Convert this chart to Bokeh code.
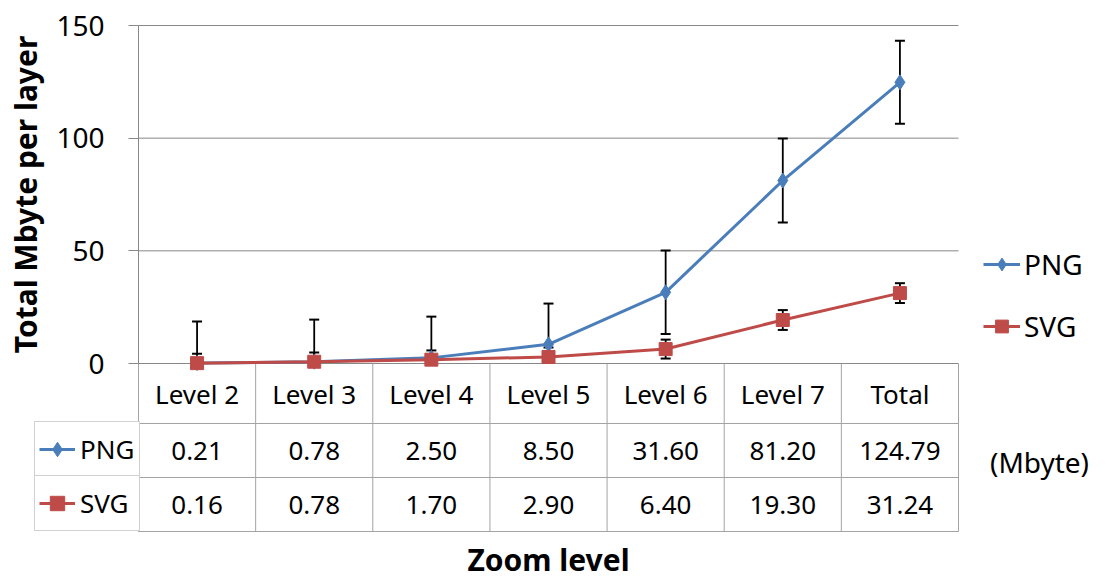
import numpy as np
from bokeh.plotting import figure
from bokeh.models import Range1d, FixedTicker, Legend, LegendItem
from bokeh.embed import file_html
from bokeh.resources import INLINE
from bokeh.core.properties import value

# ---------------- data ----------------
categories = ["Level 2", "Level 3", "Level 4", "Level 5", "Level 6", "Level 7", "Total"]
png_values = [0.21, 0.78, 2.50, 8.50, 31.60, 81.20, 124.79]
svg_values = [0.16, 0.78, 1.70, 2.90, 6.40, 19.30, 31.24]
png_errors = [18.4, 18.7, 18.3, 18.1, 18.5, 18.6, 18.4]
svg_errors = [4.2, 4.1, 4.1, 4.2, 4.2, 4.4, 4.4]
y_ticks = [0, 50, 100, 150]
series_names = ["PNG", "SVG"]
y_title = "Total Mbyte per layer"
x_title = "Zoom level"
unit_note = "(Mbyte)"

# ---------------- layout / style ----------------
PNG_COLOR = "#4a7ebb"
SVG_COLOR = "#be4b48"
GRID = "#888888"
TABLE_LINE = "#a3a3a3"
FONT = "Noto Sans"
W, H = 1106, 579
AXIS_X = 138                 # pixel of the first category boundary
AXIS_Y = 363                 # pixel of y = 0
TOP_Y = 25                   # pixel of y = 150
CELL = 820 / 7.0             # px per category
PXU = (AXIS_Y - TOP_Y) / 150.0     # px per y unit
row_edges_px = [0, 60, 114, 168]   # table rule offsets below the axis
n = len(categories)

def ypx(d):                  # px below the axis -> data units
    return -d / PXU

def xpx(px):                 # page px -> data units
    return (px - AXIS_X) / CELL

xs = np.arange(n) + 0.5
png = np.array(png_values)
svg = np.array(svg_values)
pe = np.array(png_errors)
se = np.array(svg_errors)

p = figure(width=W, height=H, output_backend="svg", toolbar_location=None,
           x_range=Range1d(xpx(0), xpx(W)),
           y_range=Range1d(ypx(H - AXIS_Y), 150 + TOP_Y / PXU),
           x_axis_location=None,
           min_border_left=0, min_border_right=0, min_border_top=0, min_border_bottom=0)
p.outline_line_color = None
p.grid.visible = False

ax = p.yaxis[0]
ax.fixed_location = 0
ax.ticker = FixedTicker(ticks=y_ticks)
ax.bounds = (0, 150)
ax.axis_line_color = GRID
ax.major_tick_line_color = GRID
ax.major_tick_out = 10
ax.major_tick_in = 0
ax.minor_tick_line_color = None
ax.major_label_text_font = FONT
ax.major_label_text_font_size = "28px"
ax.major_label_text_color = "black"
ax.major_label_standoff = 24

# horizontal gridlines across the plot area
p.segment(x0=0, y0=y_ticks, x1=n, y1=y_ticks, line_color=GRID, line_width=1)

# y title
p.text(x=[xpx(25)], y=[75], text=[y_title], angle=np.pi / 2, text_font=value(FONT),
       text_font_size=value("30px"), text_font_style="bold", text_align="center",
       text_baseline="middle", text_color="black")

# ---------------- data table ----------------
bottom = ypx(row_edges_px[-1])
p.segment(x0=0, y0=[ypx(e) for e in row_edges_px[1:]], x1=n, y1=[ypx(e) for e in row_edges_px[1:]],
          line_color=TABLE_LINE, line_width=1)
p.segment(x0=np.arange(0, n + 1), y0=0, x1=np.arange(0, n + 1), y1=bottom,
          line_color=TABLE_LINE, line_width=1)

row_mid = [ypx((row_edges_px[i] + row_edges_px[i + 1]) / 2) for i in range(3)]
txt = dict(text_font=value(FONT), text_font_size=value("26px"), text_align="center",
           text_baseline="middle", text_color="black")
p.text(x=xs, y=[row_mid[0]] * n, text=categories, **txt)
p.text(x=xs, y=[row_mid[1]] * n, text=[f"{v:.2f}" for v in png_values], **txt)
p.text(x=xs, y=[row_mid[2]] * n, text=[f"{v:.2f}" for v in svg_values], **txt)
p.text(x=[xpx(1039)], y=[ypx(461 - AXIS_Y)], text=[unit_note], text_font=value(FONT),
       text_font_size=value("28px"), text_align="center", text_baseline="middle", text_color="black")
p.text(x=[n / 2], y=[ypx(559 - AXIS_Y)], text=[x_title], text_font=value(FONT),
       text_font_size=value("30px"), text_font_style="bold", text_align="center",
       text_baseline="middle", text_color="black")

# ---------------- error bars (clipped at the axis like the original) ----------------
for vals, errs in ((png, pe), (svg, se)):
    lo = np.maximum(vals - errs, 0)
    hi = vals + errs
    p.segment(x0=xs, y0=lo, x1=xs, y1=hi, line_color="black", line_width=1.8)
    p.scatter(xs, hi, marker="dash", size=10, line_color="black", line_width=2)
    vis = vals - errs >= 0
    p.scatter(xs[vis], (vals - errs)[vis], marker="dash", size=10, line_color="black", line_width=2)

# ---------------- series ----------------
png_line = p.line(xs, png, line_color=PNG_COLOR, line_width=3)
svg_line = p.line(xs, svg, line_color=SVG_COLOR, line_width=3)
png_mark = p.scatter(xs, png, marker="diamond", size=15,
                     fill_color=PNG_COLOR, line_color=PNG_COLOR)
svg_mark = p.scatter(xs, svg, marker="square", size=13, fill_color=SVG_COLOR, line_color=SVG_COLOR)

leg = Legend(items=[LegendItem(label=series_names[0], renderers=[png_line, png_mark]),
                    LegendItem(label=series_names[1], renderers=[svg_line, svg_mark])],
             location=(983, H - 345), orientation="vertical")
leg.border_line_color = None
leg.background_fill_alpha = 0
leg.padding = 0
leg.margin = 0
leg.spacing = 24
leg.glyph_width = 37
leg.glyph_height = 32
leg.label_height = 32
leg.label_standoff = 4
leg.label_text_font = FONT
leg.label_text_font_size = "28px"
leg.label_text_color = "black"
p.add_layout(leg)

# ---------------- legend keys in the table's first column ----------------
key_renderers = [[png_line, png_mark], [svg_line, svg_mark]]
box_bottoms = [row_edges_px[2], row_edges_px[3]]
for name, rends, bb in zip(series_names, key_renderers, box_bottoms):
    lg = Legend(items=[LegendItem(label=name, renderers=rends)],
                location=(34, H - (AXIS_Y + bb)), orientation="vertical")
    lg.border_line_color = TABLE_LINE
    lg.border_line_width = 1
    lg.background_fill_color = "white"
    lg.background_fill_alpha = 1
    lg.padding = 4
    lg.margin = 0
    lg.glyph_width = 36
    lg.glyph_height = 46
    lg.label_height = 46
    lg.label_width = 55
    lg.label_standoff = 5
    lg.label_text_font = FONT
    lg.label_text_font_size = "26px"
    lg.label_text_color = "black"
    p.add_layout(lg)

open("out.html", "w").write(file_html(p, INLINE))
